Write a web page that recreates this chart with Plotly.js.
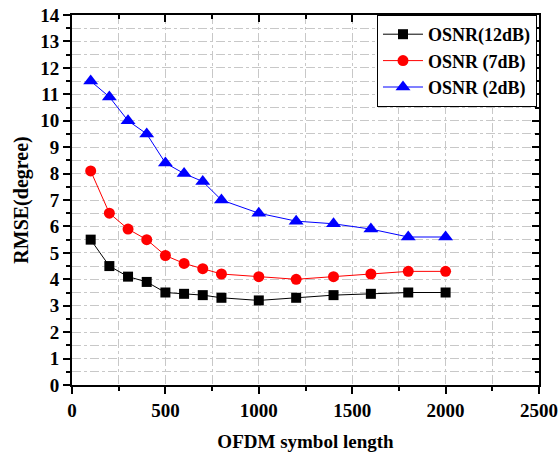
<!DOCTYPE html>
<html>
<head>
<meta charset="utf-8">
<script src="https://cdn.plot.ly/plotly-3.0.1.min.js"></script>
<style>html,body{margin:0;padding:0;background:#fff;}#chart{width:558px;height:454px;}</style>
</head>
<body>
<div id="chart"></div>
<script>
const symbolLength = [100, 200, 300, 400, 500, 600, 700, 800, 1000, 1200, 1400, 1600, 1800, 2000];
const rmse12dB = [5.5, 4.5, 4.1, 3.9, 3.5, 3.45, 3.4, 3.3, 3.2, 3.3, 3.4, 3.45, 3.5, 3.5];
const rmse7dB  = [8.1, 6.5, 5.9, 5.5, 4.9, 4.6, 4.4, 4.2, 4.1, 4.0, 4.1, 4.2, 4.3, 4.3];
const rmse2dB  = [11.5, 10.9, 10.0, 9.5, 8.4, 8.0, 7.7, 7.0, 6.5, 6.2, 6.1, 5.9, 5.6, 5.6];
const seriesNames = ['OSNR(12dB)', 'OSNR (7dB)', 'OSNR (2dB)'];
const xTitle = 'OFDM symbol length';
const yTitle = 'RMSE(degree)';

const FONT = 'Liberation Serif';

function series(y, name, color, symbol, size) {
  return {
    x: symbolLength, y: y, name: name, type: 'scatter', mode: 'lines+markers',
    line: {color: color, width: 1},
    marker: {color: color, symbol: symbol, size: size, line: {width: 0}}
  };
}

const data = [
  series(rmse12dB, seriesNames[0], '#000000', 'square', 10),
  series(rmse7dB, seriesNames[1], '#ff0000', 'circle', 11),
  series(rmse2dB, seriesNames[2], '#0000ff', 'triangle-up', 13),
  {x: [null], y: [null], xaxis: 'x2', yaxis: 'y2', showlegend: false, hoverinfo: 'skip', mode: 'markers'}
];

const gridc = '#c8c8c8';
const common = {
  showline: true, linecolor: '#000', linewidth: 2,
  tickfont: {family: FONT, size: 19, color: '#000', weight: 700},
  zeroline: false, tickcolor: '#000'
};

const layout = {
  width: 558, height: 454,
  margin: {l: 72, r: 19, t: 15, b: 69},
  paper_bgcolor: '#fff', plot_bgcolor: '#fff',
  font: {family: FONT, color: '#000', weight: 700},
  showlegend: true,
  legend: {
    x: 0.9957, y: 1, xanchor: 'right', yanchor: 'top',
    bordercolor: '#000', borderwidth: 1, bgcolor: '#fff',
    font: {family: FONT, size: 18, color: '#000', weight: 700},
    tracegroupgap: 0, itemwidth: 40
  },
  xaxis: Object.assign({}, common, {
    range: [0, 2500], dtick: 500, tick0: 0,
    ticks: 'outside', ticklen: 7, tickwidth: 2,
    showgrid: true, gridcolor: gridc, griddash: 'dashdot', gridwidth: 1,
    minor: {dtick: 250, ticks: 'outside', ticklen: 4, tickwidth: 2, tickcolor: '#000', showgrid: true, gridcolor: gridc, griddash: 'dashdot'},
    title: {text: xTitle, font: {family: FONT, size: 19, color: '#000', weight: 700}, standoff: 15}
  }),
  yaxis: Object.assign({}, common, {
    range: [0, 14], dtick: 1, tick0: 0,
    ticks: 'outside', ticklen: 7, tickwidth: 2,
    showgrid: true, gridcolor: gridc, griddash: 'dashdot', gridwidth: 1,
    minor: {dtick: 0.5, ticks: 'outside', ticklen: 4, tickwidth: 2, tickcolor: '#000', showgrid: true, gridcolor: gridc, griddash: 'dashdot'},
    title: {text: yTitle, font: {family: FONT, size: 20, color: '#000', weight: 700}, standoff: 6}
  }),
  xaxis2: {
    overlaying: 'x', side: 'top', anchor: 'y2', range: [0, 2500], dtick: 500, tick0: 0,
    showline: true, linecolor: '#000', linewidth: 2, ticks: 'inside', ticklen: 7, tickwidth: 2, tickcolor: '#000',
    showticklabels: false, showgrid: false, zeroline: false,
    minor: {dtick: 250, ticks: 'inside', ticklen: 4, tickwidth: 2, tickcolor: '#000', showgrid: false}
  },
  yaxis2: {
    overlaying: 'y', side: 'right', anchor: 'x2', range: [0, 14], dtick: 1, tick0: 0,
    showline: true, linecolor: '#000', linewidth: 2, ticks: 'inside', ticklen: 7, tickwidth: 2, tickcolor: '#000',
    showticklabels: false, showgrid: false, zeroline: false,
    minor: {dtick: 0.5, ticks: 'inside', ticklen: 4, tickwidth: 2, tickcolor: '#000', showgrid: false}
  }
};

Plotly.newPlot('chart', data, layout, {displayModeBar: false, staticPlot: true});
</script>
</body>
</html>
